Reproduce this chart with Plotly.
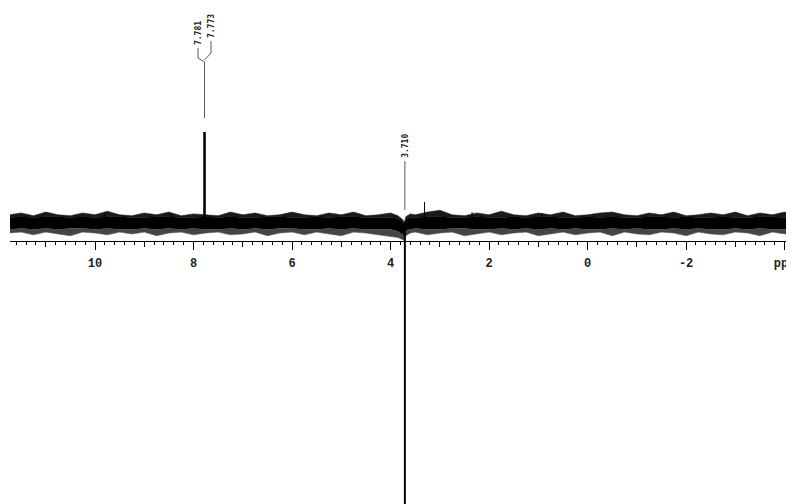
import plotly.graph_objects as go

# ---------------- data ----------------
# noise envelope (every 0.25 ppm, plus a few extra points round the 3.71 ppm signal)
noise_ppm = ([11.75, 11.5, 11.25, 11.0, 10.75, 10.5, 10.25, 10.0, 9.75, 9.5, 9.25, 9.0,
              8.75, 8.5, 8.25, 8.0, 7.75, 7.5, 7.25, 7.0, 6.75, 6.5, 6.25, 6.0,
              5.75, 5.5, 5.25, 5.0, 4.75, 4.5, 4.25, 4.0]
             + [3.85, 3.76, 3.72, 3.69, 3.6]
             + [3.5, 3.25, 3.0, 2.75, 2.5, 2.25, 2.0, 1.75, 1.5, 1.25, 1.0, 0.75,
                0.5, 0.25, 0.0, -0.25, -0.5, -0.75, -1.0, -1.25, -1.5, -1.75, -2.0, -2.25,
                -2.5, -2.75, -3.0, -3.25, -3.5, -3.75, -4.0, -4.25])
fringe_upper = ([9, 11, 8, 12, 9, 8, 11, 9, 13, 9, 8, 11, 9, 12, 8, 10,
                 9, 8, 12, 9, 11, 8, 9, 12, 9, 8, 11, 9, 12, 8, 9, 11]
                + [8, 4, 1, 7, 10]
                + [9, 12, 14, 9, 8, 11, 9, 13, 9, 8, 11, 9, 12, 8, 9, 11,
                   12, 9, 8, 11, 9, 12, 8, 9, 11, 9, 12, 8, 11, 9, 12, 9])
core_upper = ([6, 7, 6, 7, 7, 6, 7, 6, 7, 7, 6, 6, 7, 7, 6, 6,
               7, 6, 7, 6, 6, 7, 7, 6, 6, 7, 6, 7, 7, 6, 6, 6]
              + [5, 2, -2, 4, 6]
              + [6, 7, 7, 6, 6, 7, 6, 6, 7, 6, 7, 7, 6, 6, 7, 6,
                 7, 6, 6, 7, 7, 6, 7, 6, 6, 7, 6, 6, 7, 7, 6, 6])
core_lower = ([-7, -6, -7, -6, -7, -6, -6, -7, -6, -7, -7, -6, -7, -6, -7, -6,
               -7, -7, -6, -7, -6, -7, -6, -6, -7, -7, -6, -7, -6, -7, -7, -7]
              + [-9, -12, -14, -8, -7]
              + [-6, -7, -7, -6, -6, -7, -7, -6, -7, -6, -7, -6, -7, -6, -7, -7,
                 -6, -7, -6, -7, -7, -6, -7, -6, -7, -7, -6, -7, -6, -7, -7, -6])
fringe_lower = ([-11, -10, -13, -10, -12, -14, -10, -11, -13, -10, -12, -10, -14, -11, -10, -13,
                 -11, -10, -13, -12, -10, -14, -11, -10, -13, -10, -12, -14, -10, -11, -13, -15]
                + [-16, -18, -19, -14, -11]
                + [-10, -13, -11, -10, -14, -12, -10, -13, -11, -10, -14, -12, -10, -13, -11, -10,
                   -14, -10, -12, -13, -10, -11, -14, -10, -12, -13, -10, -11, -14, -10, -12, -13])

# labelled peaks (relative intensity, 7.78 doublet = 100)
peak_ppm = [7.781, 7.773, 3.710]
peak_height = [100, 100, -420]
peak_labels = ["7.781", "7.773", "3.710"]

# small unlabelled spikes
spike_ppm = [3.31, 2.345, 0.924, 8.46, 9.80]
spike_height = [23, 12, 11, 10, 11]

x_ticks = [10, 8, 6, 4, 2, 0, -2, -4]
x_ticktext = ["10", "8", "6", "4", "2", "0", "-2", "ppm"]
x_mid_ticks = [11, 9, 7, 5, 3, 1, -1, -3]

# ---------------- geometry helpers ----------------
PAGE_OFF = 8                      # browser body margin
W, H = 794 - PAGE_OFF, 504 - PAGE_OFF
L_MARGIN = 10 - PAGE_OFF
X_RANGE = [11.726, -4.19]
BASE_PX = 223.0                   # baseline row in page pixels
PX_PER_UNIT = 0.91
PAGE_BOTTOM = PAGE_OFF + H
Y_RANGE = [-(PAGE_BOTTOM - BASE_PX) / PX_PER_UNIT, (BASE_PX - PAGE_OFF) / PX_PER_UNIT]
PX_PER_PPM = (W - L_MARGIN) / (X_RANGE[0] - X_RANGE[1])


def y_of(py):
    # page pixel row -> data units
    return (BASE_PX - py) / PX_PER_UNIT


def dppm(dpx):
    # pixel offset to the right -> ppm offset (axis reversed)
    return -dpx / PX_PER_PPM


fig = go.Figure()
NOLINE = dict(color="rgba(0,0,0,0)", width=0)

# noise band: grey lower fringe, black core, dark upper fringe
fig.add_trace(go.Scatter(x=noise_ppm, y=fringe_lower, mode="lines",
                         line=dict(color="#555555", width=0.6), hoverinfo="skip"))
fig.add_trace(go.Scatter(x=noise_ppm, y=core_lower, mode="lines", fill="tonexty",
                         fillcolor="#444444", line=NOLINE, hoverinfo="skip"))
fig.add_trace(go.Scatter(x=noise_ppm, y=core_upper, mode="lines", fill="tonexty",
                         fillcolor="#000000", line=dict(color="#000000", width=0.5),
                         hoverinfo="skip"))
fig.add_trace(go.Scatter(x=noise_ppm, y=fringe_upper, mode="lines", fill="tonexty",
                         fillcolor="#1a1a1a", line=dict(color="#222222", width=0.6),
                         hoverinfo="skip"))

# peak sticks
sx, sy = [], []
for p, h in zip(peak_ppm, peak_height):
    sx += [p, p, None]
    sy += [0, h, None]
fig.add_trace(go.Scatter(x=sx, y=sy, mode="lines",
                         line=dict(color="#000000", width=2), hoverinfo="skip"))

kx, ky = [], []
for p, h in zip(spike_ppm, spike_height):
    kx += [p, p, None]
    ky += [0, h, None]
fig.add_trace(go.Scatter(x=kx, y=ky, mode="lines",
                         line=dict(color="#000000", width=1), hoverinfo="skip"))

# dummy trace to carry the medium-tick axis
fig.add_trace(go.Scatter(x=[X_RANGE[0], X_RANGE[1]], y=[0, 0], xaxis="x2",
                         mode="lines", opacity=0, hoverinfo="skip"))

# ---------------- peak label leaders ----------------
LEAD = dict(color="#5a5a5a", width=1)
stem_x = (peak_ppm[0] + peak_ppm[1]) / 2
left_x = stem_x + dppm(-6.5)
right_x = stem_x + dppm(6.5)
fig.add_shape(type="line", x0=stem_x, x1=stem_x, y0=y_of(118), y1=y_of(62), line=LEAD)
fig.add_shape(type="line", x0=stem_x, x1=left_x, y0=y_of(62), y1=y_of(58), line=LEAD)
fig.add_shape(type="line", x0=left_x, x1=left_x, y0=y_of(58), y1=y_of(48), line=LEAD)
fig.add_shape(type="line", x0=stem_x, x1=right_x, y0=y_of(60), y1=y_of(53), line=LEAD)
fig.add_shape(type="line", x0=right_x, x1=right_x, y0=y_of(53), y1=y_of(41), line=LEAD)
# 3.710 leader
fig.add_shape(type="line", x0=peak_ppm[2], x1=peak_ppm[2], y0=y_of(210), y1=y_of(161), line=LEAD)

LABEL_FONT = dict(family="DejaVu Sans Mono", size=8, color="#1a1a2a", weight="bold")
label_pos = [(left_x, y_of(47)), (right_x, y_of(40)), (peak_ppm[2], y_of(160))]
for (lx, ly), txt in zip(label_pos, peak_labels):
    fig.add_annotation(x=lx, y=ly, text=txt, textangle=-90, showarrow=False,
                       xanchor="center", yanchor="bottom", font=LABEL_FONT)

# ---------------- layout ----------------
axis_pos = (PAGE_BOTTOM - 241) / H
fig.update_layout(
    width=W, height=H,
    margin=dict(l=L_MARGIN, r=0, t=0, b=0),
    paper_bgcolor="white", plot_bgcolor="white",
    showlegend=False,
    xaxis=dict(range=X_RANGE, anchor="free", position=axis_pos,
               showgrid=False, zeroline=False,
               showline=True, linecolor="#000000", linewidth=1,
               tickmode="array", tickvals=x_ticks, ticktext=x_ticktext,
               ticks="outside", ticklen=8, tickwidth=1, tickcolor="#000000",
               ticklabelstandoff=3, ticklabeloverflow="allow",
               tickfont=dict(family="Liberation Mono", size=12, color="#222222",
                             weight="bold"),
               minor=dict(dtick=0.2, tick0=0, ticks="outside", ticklen=3,
                          tickwidth=1, tickcolor="#000000", showgrid=False)),
    xaxis2=dict(range=X_RANGE, overlaying="x", anchor="free", position=axis_pos,
                showgrid=False, zeroline=False, showline=False,
                tickmode="array", tickvals=x_mid_ticks, showticklabels=False,
                ticks="outside", ticklen=5, tickwidth=1, tickcolor="#000000"),
    yaxis=dict(range=Y_RANGE, visible=False, showgrid=False, zeroline=False),
)

fig.write_html("out.html")
